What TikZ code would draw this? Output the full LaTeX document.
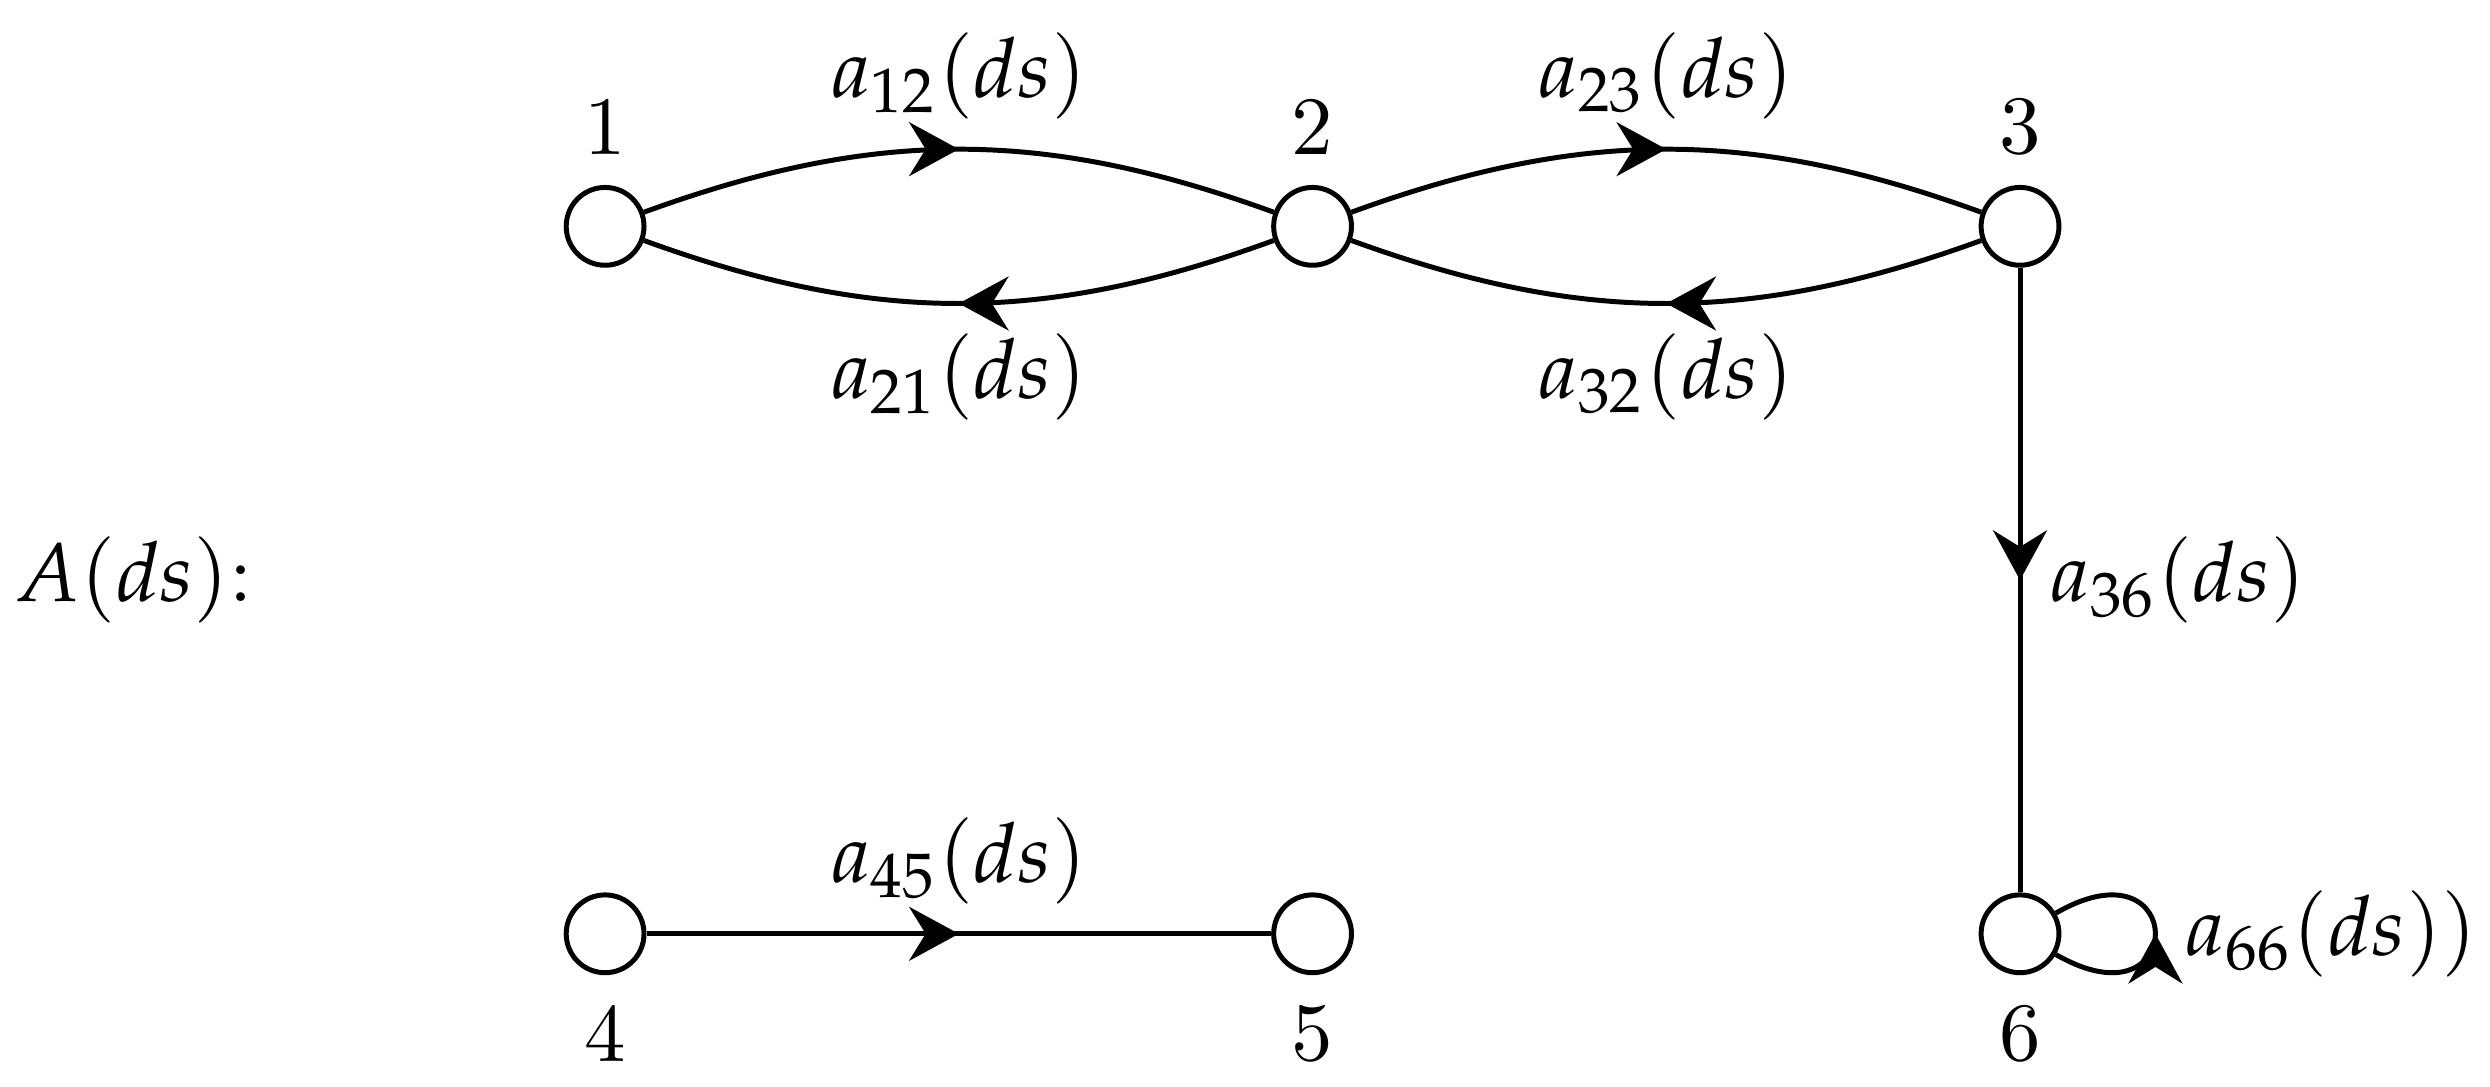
\documentclass[tikz,border=0pt]{standalone}
\usepackage{mathpazo}
\usetikzlibrary{arrows.meta,decorations.markings}

\begin{document}
\begin{tikzpicture}[semithick,>={Stealth[length=6pt,width=6.5pt,inset=2pt]},
		vert/.style={circle,draw,fill=white,minimum size=3.3mm,inner sep=0pt},
		midarrow/.style={postaction={decorate},decoration={markings,mark=at position 0.5 with {\arrow{>}}}}]
		\useasboundingbox (-2.566,-0.646) rectangle (7.993,3.960);
		\node[vert,label=above:1] (v1) at (0,3) {};
		\node[vert,label=above:2] (v2) at (3,3) {};
		\node[vert,label=above:3] (v3) at (6,3) {};
		\node[vert,label=below:4] (v4) at (0,0) {};
		\node[vert,label=below:5] (v5) at (3,0) {};
		\node[vert,label=below:6] (v6) at (6,0) {};
		\node (lbl) at (-2,1.5) {$A(ds)$:};
		
		\draw[midarrow] (v1) to[bend left=20] node[above]{$a_{12}(ds)$} (v2);
		\draw[midarrow] (v2) to[bend left=20] node[below]{$a_{21}(ds)$} (v1);
		\draw[midarrow] (v2) to[bend left=20] node[above]{$a_{23}(ds)$} (v3);
		\draw[midarrow] (v3) to[bend left=20] node[below]{$a_{32}(ds)$} (v2);
		\draw[midarrow] (v3) -- node[right]{$a_{36}(ds)$} (v6);
		\draw[midarrow] (v4) -- node[above]{$a_{45}(ds)$} (v5);
		\draw[midarrow] (v6) to[out=-30,in=30,min distance=6.5mm] node[right]{$a_{66}(ds))$} (v6);
		
	\end{tikzpicture}
\end{document}
